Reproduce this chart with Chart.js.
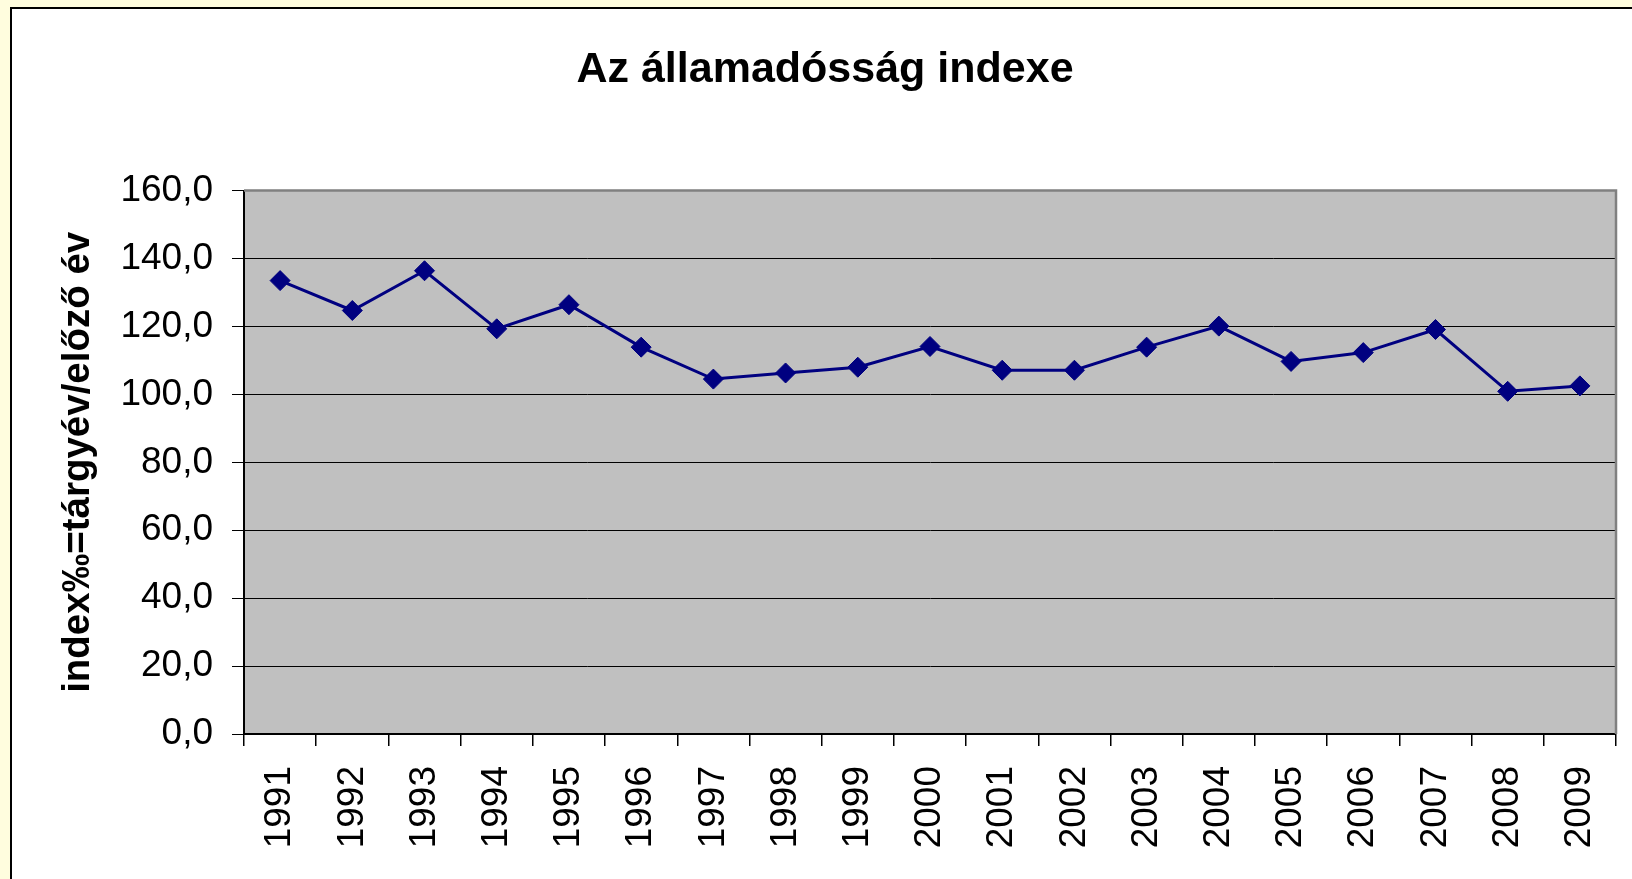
<!DOCTYPE html>
<html>
<head>
<meta charset="utf-8">
<script src="https://cdn.jsdelivr.net/npm/chart.js@4"></script>
<style>
  html, body { margin: 0; padding: 0; background: #FFFDDE; overflow: hidden; }
  #frame { position: absolute; left: 10px; top: 7px; border-left: 2px solid #000; border-top: 2px solid #000; background: #fff; }
  #chart { display: block; }
</style>
</head>
<body>
<div id="frame"><canvas id="chart" width="1620" height="870"></canvas></div>
<script>
// Államadósság indexe, 1991-2009 (előző év = 100)
const years = ['1991','1992','1993','1994','1995','1996','1997','1998','1999','2000',
               '2001','2002','2003','2004','2005','2006','2007','2008','2009'];
const indexValues = [133.5, 124.7, 136.4, 119.3, 126.4, 113.9, 104.5, 106.3, 108.0, 114.1,
                     107.1, 107.1, 113.9, 120.1, 109.7, 112.3, 119.1, 100.9, 102.5];
const yTicks = [0, 20, 40, 60, 80, 100, 120, 140, 160];

const FONT = "'Liberation Sans', Arial, sans-serif";
function fmt(v) { return Number(v).toFixed(1).replace('.', ','); }

// szürke rajzterület + szürke felső/jobb keret
const plotFrame = {
  id: 'plotFrame',
  beforeDraw(chart) {
    const a = chart.chartArea, ctx = chart.ctx;
    ctx.save();
    ctx.fillStyle = '#C0C0C0';
    ctx.fillRect(a.left, a.top, a.right - a.left, a.bottom - a.top);
    ctx.restore();
  },
  afterDatasetsDraw(chart) {
    const a = chart.chartArea, ctx = chart.ctx;
    ctx.save();
    ctx.strokeStyle = '#808080';
    ctx.lineWidth = 2.5;
    ctx.beginPath();
    ctx.moveTo(a.left, a.top);
    ctx.lineTo(a.right, a.top);
    ctx.lineTo(a.right, a.bottom);
    ctx.stroke();
    ctx.restore();
  },
  afterLayout(chart) {
    // a cím kicsit jobbra van a vászon közepétől
    const t = chart.titleBlock;
    if (t) { t.left = 22; }
  }
};

new Chart(document.getElementById('chart'), {
  type: 'line',
  data: {
    labels: years,
    datasets: [{
      data: indexValues,
      borderColor: '#000080',
      backgroundColor: '#000080',
      borderWidth: 3,
      tension: 0,
      pointStyle: 'rectRot',
      pointRadius: 10,
      pointHoverRadius: 10,
      pointBorderWidth: 1
    }]
  },
  options: {
    responsive: false,
    animation: false,
    layout: { padding: { left: 0, right: 16, top: 0, bottom: 0 } },
    plugins: {
      legend: { display: false },
      tooltip: { enabled: false },
      title: {
        display: true,
        text: 'Az államadósság indexe',
        color: '#000',
        font: { family: FONT, size: 43, weight: 'bold', lineHeight: 1.2 },
        padding: { top: 35, bottom: 95 }
      }
    },
    scales: {
      x: {
        type: 'category',
        offset: true,
        grid: { display: true, drawOnChartArea: false, drawTicks: true, tickLength: 12, color: '#000', offset: true, lineWidth: 1.5 },
        border: { display: true, color: '#000', width: 2 },
        ticks: {
          color: '#000',
          font: { family: FONT, size: 37 },
          minRotation: 90, maxRotation: 90,
          autoSkip: false,
          padding: 20
        },
        afterFit(scale) {
          scale.height = 145;
          scale.paddingLeft = 0;
          scale.paddingRight = 0;
        }
      },
      y: {
        min: 0, max: 160,
        afterBuildTicks(scale) { scale.ticks = yTicks.map(v => ({ value: v })); },
        grid: { color: '#000', lineWidth: 1, drawTicks: true, tickLength: 12 },
        border: { display: true, color: '#000', width: 2 },
        ticks: {
          color: '#000',
          font: { family: FONT, size: 37 },
          padding: 19,
          callback: v => fmt(v)
        },
        title: {
          display: true,
          text: 'index‰=tárgyév/előző év',
          color: '#000',
          font: { family: FONT, size: 38.5, weight: 'bold', lineHeight: 1.2 },
          padding: { top: 43, bottom: 0 }
        },
        afterFit(scale) { scale.width = 232; }
      }
    }
  },
  plugins: [plotFrame]
});
</script>
</body>
</html>
